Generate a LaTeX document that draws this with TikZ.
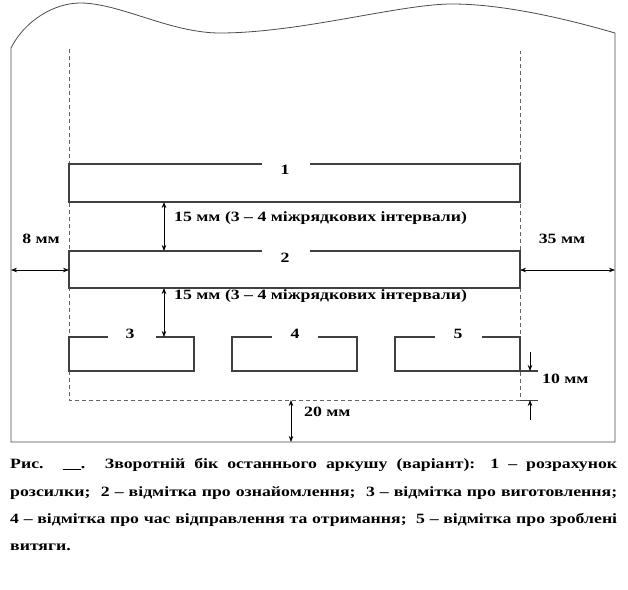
\documentclass[tikz,border=0pt]{standalone}
\usepackage{fontspec}
\setmainfont{Liberation Serif}
\usetikzlibrary{arrows.meta}
\newcommand\wtxt[1]{\scalebox{1.25}[1]{#1}}
\begin{document}
\begin{tikzpicture}[x=1pt,y=-1pt,
  boxline/.style={draw=black!75, line width=1.1pt},
  sheet/.style={draw=black!70, line width=0.8pt},
  guide/.style={draw=black!60, dash pattern=on 4pt off 3pt, line width=0.7pt},
  dim/.style={draw=black, line width=0.7pt, {Stealth[length=6pt,width=4.5pt]}-{Stealth[length=6pt,width=4.5pt]}},
  dimend/.style={draw=black, line width=0.7pt, -{Stealth[length=6pt,width=4.5pt]}},
  lbl/.style={font=\bfseries\fontsize{14.2}{16}\selectfont, inner sep=0pt}]
\useasboundingbox[fill=white] (0,0) rectangle (628,589);
% sheet outline
\draw[sheet] (11,48) .. controls (25,20) and (55,3) .. (80,3)
  .. controls (120,3) and (170,33) .. (220,33)
  .. controls (300,33) and (400,4) .. (452,4)
  .. controls (500,4) and (560,17) .. (615,33)
  -- (615,442) -- (11,442) -- cycle;
% guide lines
\coordinate (gl) at (69,400);
\coordinate (gr) at (520,400);
\draw[guide] (69,49) -- (gl) -- (gr) -- (520,51);
\draw[boxline, line width=0.7pt] (gr) -- (538,400);
% box 1
\draw[boxline] (262,164) -- (69,164) -- (69,202) -- (520,202) -- (520,164) -- (310,164);
\node[lbl] (n1) at (285,170) {\wtxt{1}};
% text under box 2 (partly hidden)
\node[lbl, anchor=west] (t2) at (174,296) {\wtxt{15 мм (3 – 4 міжрядкових інтервали)}};
% box 2
\fill[white] (69,251) rectangle (520,288);
\draw[boxline] (262,251) -- (69,251) -- (69,288) -- (520,288) -- (520,251) -- (310,251);
\node[lbl] (n2) at (285,258) {\wtxt{2}};
% boxes 3-5
\draw[boxline] (108,337) -- (69,337) -- (69,371) -- (194,371) -- (194,337) -- (156,337);
\node[lbl] (n3) at (130,334) {\wtxt{3}};
\draw[boxline] (272,337) -- (232,337) -- (232,371) -- (357,371) -- (357,337) -- (318,337);
\node[lbl] (n4) at (295,334) {\wtxt{4}};
\draw[boxline] (435,337) -- (395,337) -- (395,371) -- (538,371);
\draw[boxline] (520,371) -- (520,337) -- (482,337);
\node[lbl] (n5) at (458,334) {\wtxt{5}};
% dimension 15 mm (1)
\coordinate (a1) at (164,202);
\coordinate (a2) at (164,251);
\draw[dim] (a1) -- (a2);
\node[lbl, anchor=west] (t1) at (174,218) {\wtxt{15 мм (3 – 4 міжрядкових інтервали)}};
% dimension 15 mm (2)
\coordinate (b1) at (164,288);
\coordinate (b2) at (164,337);
\draw[dim] (b1) -- (b2);
% 8 mm
\coordinate (l1) at (11,270);
\coordinate (l2) at (69,270);
\draw[dim] (l1) -- (l2);
\node[lbl] (t8) at (41,239) {\wtxt{8 мм}};
% 35 mm
\coordinate (r1) at (520,270);
\coordinate (r2) at (615,270);
\draw[dim] (r1) -- (r2);
\node[lbl] (t35) at (562,239) {\wtxt{35 мм}};
% 20 mm
\coordinate (d1) at (291,400);
\coordinate (d2) at (291,442);
\draw[dim] (d1) -- (d2);
\node[lbl, anchor=west] (t20) at (304,412) {\wtxt{20 мм}};
% 10 mm
\coordinate (e1) at (530,352);
\coordinate (e2) at (530,371);
\coordinate (e3) at (530,420);
\coordinate (e4) at (530,400);
\draw[dimend] (e1) -- (e2);
\draw[dimend] (e3) -- (e4);
\node[lbl, anchor=west] (t10) at (542,379) {\wtxt{10 мм}};
% caption
\node[lbl, anchor=west] (c1) at (10,465) {\wtxt{\makebox[485.6pt][s]{Рис. \_\_. Зворотній бік останнього аркушу (варіант): 1 – розрахунок}}};
\node[lbl, anchor=west] (c2) at (10,493) {\wtxt{\makebox[485.6pt][s]{розсилки; \ 2 – відмітка про ознайомлення; \ 3 – відмітка про виготовлення;}}};
\node[lbl, anchor=west] (c3) at (10,520) {\wtxt{\makebox[485.6pt][s]{4 – відмітка про час відправлення та отримання; \ 5 – відмітка про зроблені}}};
\node[lbl, anchor=west] (c4) at (10,547) {\wtxt{витяги.}};
\end{tikzpicture}
\end{document}
